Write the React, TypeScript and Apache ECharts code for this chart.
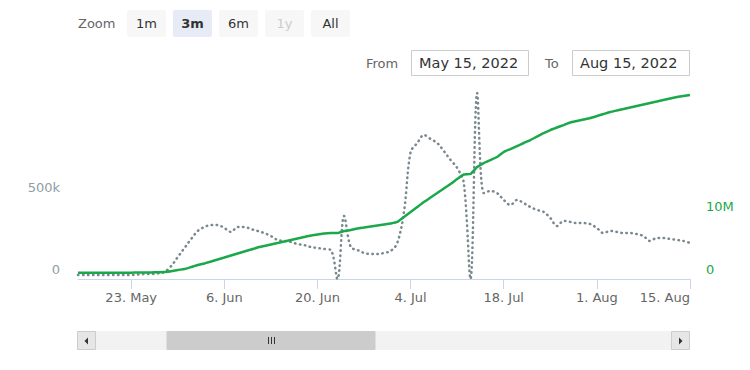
import React, { useEffect, useRef } from "react";
import * as echarts from "echarts";

// Day 0 = May 15, 2022 ; one value per day through Aug 15, 2022
const startLabel = "May 15, 2022";
const endLabel = "Aug 15, 2022";

const dailyValues = [
  24000, 24000, 24000, 24000, 24000, 24000, 24000, 24000, 24000, 27000,
  30000, 30000, 34000, 43000, 79000, 134000, 189000, 244000, 293000, 317000,
  329000, 329000, 311000, 287000, 317000, 317000, 305000, 293000, 280000, 262000,
  238000, 232000, 226000, 213000, 207000, 195000, 189000, 183000, 177000, 0,
  384000, 195000, 177000, 159000, 152000, 152000, 159000, 171000, 220000, 409000,
  774000, 829000, 878000, 854000, 829000, 780000, 726000, 677000, 585000, 0,
  1134000, 524000, 537000, 524000, 482000, 451000, 482000, 463000, 439000, 421000,
  409000, 372000, 323000, 354000, 348000, 341000, 341000, 335000, 311000, 280000,
  293000, 287000, 280000, 280000, 274000, 262000, 232000, 250000, 250000, 244000,
  238000, 232000, 220000,
];

const cumulativeMillions = [
  0.98, 0.98, 0.99, 0.99, 1.0, 1.0, 1.0, 1.01, 1.01, 1.02,
  1.03, 1.05, 1.07, 1.11, 1.22, 1.43, 1.59, 1.9, 2.22, 2.46,
  2.78, 3.1, 3.41, 3.73, 4.05, 4.37, 4.68, 5.0, 5.24, 5.48,
  5.71, 5.95, 6.19, 6.43, 6.67, 6.9, 7.06, 7.22, 7.3, 7.3,
  7.62, 7.78, 8.02, 8.17, 8.33, 8.49, 8.65, 8.81, 9.05, 9.84,
  10.63, 11.43, 12.22, 12.94, 13.65, 14.37, 15.08, 15.87, 16.59, 16.67,
  17.78, 18.41, 18.89, 19.37, 20.16, 20.63, 21.11, 21.59, 22.06, 22.62,
  23.17, 23.65, 24.05, 24.44, 24.84, 25.08, 25.32, 25.56, 25.87, 26.19,
  26.51, 26.75, 26.98, 27.22, 27.46, 27.7, 27.94, 28.17, 28.41, 28.65,
  28.89, 29.05, 29.21,
];

const xTickDays = [8, 22, 36, 50, 64, 78, 92];
const xTickLabels = ["23. May", "6. Jun", "20. Jun", "4. Jul", "18. Jul", "1. Aug", "15. Aug"];
const leftTicks = [0, 500000];
const leftTickLabels = ["0", "500k"];
const rightTicks = [0, 10000000];
const rightTickLabels = ["0", "10M"];
const zoomButtons = ["1m", "3m", "6m", "1y", "All"];
const selectedButton = "3m";
const disabledButton = "1y";

const FONT = "DejaVu Sans, sans-serif";
const GREEN = "#1aa84a";
const GRAY = "#7a888f";

export default function App() {
  const ref = useRef<HTMLDivElement>(null);
  useEffect(() => {
    if (!ref.current) return;
    const chart = echarts.init(ref.current, null, { renderer: "svg" });

    const dotted = dailyValues.map((v, i) => [i, v]);
    const green = cumulativeMillions.map((v, i) => [i, v * 1e6]);

    const graphics: any[] = [];
    graphics.push({
      type: "text", x: 78, y: 23,
      style: { text: "Zoom", font: `13px ${FONT}`, fill: "#666666", align: "left", verticalAlign: "middle" },
    });
    const btnX = [127, 173, 219, 265, 311];
    zoomButtons.forEach((b, i) => {
      const sel = b === selectedButton;
      const dis = b === disabledButton;
      graphics.push({
        type: "rect",
        shape: { x: btnX[i], y: 10, width: 39, height: 27, r: 2 },
        style: { fill: sel ? "#e6ebf5" : "#f7f7f7", stroke: "none" },
      });
      graphics.push({
        type: "text", x: btnX[i] + 19.5, y: 23.5,
        style: {
          text: b, font: `${sel ? "bold " : ""}13px ${FONT}`,
          fill: dis ? "#cccccc" : "#333333", align: "center", verticalAlign: "middle",
        },
      });
    });
    graphics.push({
      type: "text", x: 366, y: 63,
      style: { text: "From", font: `13px ${FONT}`, fill: "#666666", align: "left", verticalAlign: "middle" },
    });
    graphics.push({
      type: "rect", shape: { x: 411.5, y: 50.5, width: 117, height: 25 },
      style: { fill: "#ffffff", stroke: "#cccccc", lineWidth: 1 },
    });
    graphics.push({
      type: "text", x: 419, y: 63,
      style: { text: startLabel, font: `14.5px ${FONT}`, fill: "#333333", align: "left", verticalAlign: "middle" },
    });
    graphics.push({
      type: "text", x: 545, y: 63,
      style: { text: "To", font: `13px ${FONT}`, fill: "#666666", align: "left", verticalAlign: "middle" },
    });
    graphics.push({
      type: "rect", shape: { x: 572.5, y: 50.5, width: 117, height: 25 },
      style: { fill: "#ffffff", stroke: "#cccccc", lineWidth: 1 },
    });
    graphics.push({
      type: "text", x: 580, y: 63,
      style: { text: endLabel, font: `14.5px ${FONT}`, fill: "#333333", align: "left", verticalAlign: "middle" },
    });
    // scrollbar
    graphics.push({
      type: "rect", shape: { x: 77.5, y: 331.5, width: 612, height: 18 },
      style: { fill: "#f2f2f2", stroke: "#f2f2f2" },
    });
    graphics.push({
      type: "rect", shape: { x: 167, y: 331.5, width: 208, height: 18 },
      style: { fill: "#cccccc", stroke: "#cccccc" },
    });
    [268, 271, 274].forEach((gx) => {
      graphics.push({
        type: "line", shape: { x1: gx + 0.5, y1: 337, x2: gx + 0.5, y2: 344 },
        style: { stroke: "#333333", lineWidth: 1 },
      });
    });
    graphics.push({
      type: "rect", shape: { x: 77.5, y: 331.5, width: 18, height: 18 },
      style: { fill: "#e6e6e6", stroke: "#cccccc", lineWidth: 1 },
    });
    graphics.push({
      type: "polygon", shape: { points: [[88, 337.5], [88, 344.5], [84.5, 341]] },
      style: { fill: "#333333" },
    });
    graphics.push({
      type: "rect", shape: { x: 671.5, y: 331.5, width: 18, height: 18 },
      style: { fill: "#e6e6e6", stroke: "#cccccc", lineWidth: 1 },
    });
    graphics.push({
      type: "polygon", shape: { points: [[679, 337.5], [679, 344.5], [682.5, 341]] },
      style: { fill: "#333333" },
    });

    chart.setOption({
      animation: false,
      grid: { left: 78, right: 60, top: 85, bottom: 91 },
      graphic: graphics,
      xAxis: {
        type: "value",
        min: 0,
        max: 92,
        axisLine: { show: true, lineStyle: { color: "#ccd6eb", width: 1 } },
        axisTick: { show: true, length: 10, lineStyle: { color: "#ccd6eb" }, customValues: xTickDays },
        splitLine: { show: false },
        axisLabel: {
          customValues: xTickDays,
          margin: 12,
          color: "#666666",
          fontFamily: FONT,
          fontSize: 13,
          alignMaxLabel: "right",
          formatter: (v: number) => {
            const i = xTickDays.indexOf(Math.round(v));
            return i >= 0 ? xTickLabels[i] : "";
          },
        },
      },
      yAxis: [
        {
          type: "value",
          min: 0,
          max: 1183000,
          position: "left",
          axisLine: { show: false },
          axisTick: { show: false },
          splitLine: { show: false },
          axisLabel: {
            customValues: leftTicks,
            color: "#8e9ea6",
            fontFamily: FONT,
            fontSize: 13,
            margin: 18,
            verticalAlign: "bottom",
            padding: [0, 0, 3, 0],
            formatter: (v: number) => {
              const i = leftTicks.indexOf(v);
              return i >= 0 ? leftTickLabels[i] : "";
            },
          },
        },
        {
          type: "value",
          min: 0,
          max: 30800000,
          position: "right",
          axisLine: { show: false },
          axisTick: { show: false },
          splitLine: { show: false },
          axisLabel: {
            customValues: rightTicks,
            color: GREEN,
            fontFamily: FONT,
            fontSize: 13,
            margin: 16,
            verticalAlign: "bottom",
            padding: [0, 0, 3, 0],
            formatter: (v: number) => {
              const i = rightTicks.indexOf(v);
              return i >= 0 ? rightTickLabels[i] : "";
            },
          },
        },
      ],
      series: [
        {
          type: "line",
          yAxisIndex: 0,
          data: dotted,
          smooth: 0.35,
          showSymbol: false,
          lineStyle: { color: GRAY, width: 2.5, type: [0.5, 4.5], cap: "round" },
          z: 2,
        },
        {
          type: "line",
          yAxisIndex: 1,
          data: green,
          smooth: 0.15,
          showSymbol: false,
          lineStyle: { color: GREEN, width: 2.5 },
          z: 3,
        },
      ],
    });
    return () => chart.dispose();
  }, []);
  return (
    <div
      ref={ref}
      style={{ position: "fixed", left: 0, top: 0, width: 750, height: 370, background: "#ffffff" }}
    />
  );
}
